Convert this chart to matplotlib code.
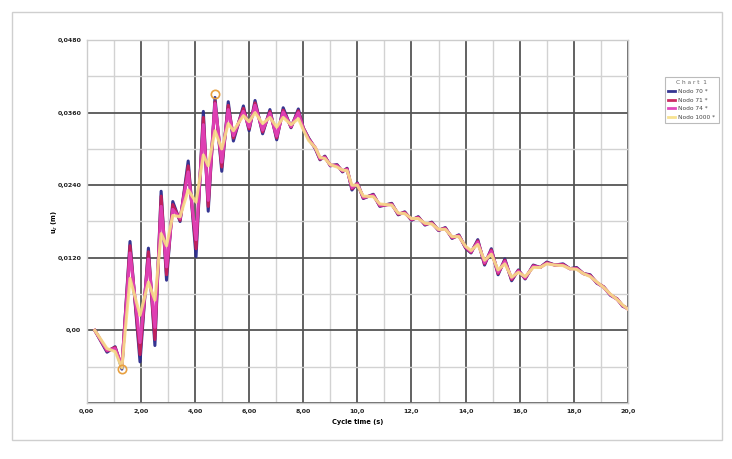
import matplotlib.pyplot as plt
import numpy as np
from matplotlib.patches import Rectangle
from matplotlib.ticker import MultipleLocator, FixedLocator

# Tiempo (s) en los puntos de giro de las curvas
t = [0.30, 0.75, 1.05, 1.30, 1.60, 1.97, 2.28, 2.52, 2.75, 2.95,
     3.18, 3.45, 3.75, 4.04, 4.31, 4.49, 4.74, 4.99, 5.23, 5.42,
     5.79, 6.00, 6.22, 6.50, 6.77, 7.02, 7.26, 7.55, 7.82, 8.00,
     8.20, 8.45, 8.62, 8.80, 9.00, 9.25, 9.45, 9.62, 9.80, 10.00,
     10.22, 10.59, 10.83, 11.27, 11.51, 11.75, 12.00, 12.25, 12.50, 12.75,
     13.00, 13.25, 13.50, 13.75, 14.00, 14.20, 14.45, 14.70, 14.95, 15.20,
     15.45, 15.70, 15.95, 16.20, 16.50, 16.75, 17.00, 17.30, 17.60, 17.85,
     18.10, 18.35, 18.60, 18.85, 19.10, 19.35, 19.60, 19.80, 20.00]

nodo70 = [0.0000, -0.0036, -0.0027, -0.0064, 0.0147, -0.0052, 0.0136, -0.0025, 0.0230, 0.0083,
          0.0213, 0.0180, 0.0280, 0.0122, 0.0362, 0.0197, 0.0385, 0.0263, 0.0378, 0.0313,
          0.0371, 0.0330, 0.0380, 0.0325, 0.0365, 0.0315, 0.0368, 0.0335, 0.0366, 0.0335,
          0.0318, 0.0300, 0.0282, 0.0288, 0.0272, 0.0274, 0.0262, 0.0268, 0.0232, 0.0244,
          0.0218, 0.0225, 0.0205, 0.0210, 0.0191, 0.0196, 0.0182, 0.0188, 0.0174, 0.0179,
          0.0165, 0.0170, 0.0152, 0.0158, 0.0136, 0.0128, 0.0150, 0.0108, 0.0135, 0.0092,
          0.0118, 0.0082, 0.0100, 0.0085, 0.0108, 0.0104, 0.0113, 0.0108, 0.0110, 0.0102,
          0.0104, 0.0094, 0.0092, 0.0078, 0.0072, 0.0058, 0.0052, 0.0040, 0.0036]

nodo71 = [0.0000, -0.0034, -0.0028, -0.0060, 0.0140, -0.0040, 0.0130, -0.0015, 0.0222, 0.0092,
          0.0208, 0.0182, 0.0272, 0.0135, 0.0352, 0.0205, 0.0378, 0.0270, 0.0372, 0.0318,
          0.0367, 0.0333, 0.0376, 0.0328, 0.0362, 0.0318, 0.0364, 0.0336, 0.0363, 0.0335,
          0.0317, 0.0301, 0.0283, 0.0287, 0.0273, 0.0273, 0.0263, 0.0267, 0.0234, 0.0243,
          0.0219, 0.0224, 0.0206, 0.0209, 0.0192, 0.0195, 0.0183, 0.0187, 0.0175, 0.0178,
          0.0166, 0.0169, 0.0153, 0.0157, 0.0137, 0.0129, 0.0148, 0.0110, 0.0133, 0.0094,
          0.0116, 0.0084, 0.0099, 0.0086, 0.0107, 0.0104, 0.0112, 0.0108, 0.0109, 0.0102,
          0.0103, 0.0094, 0.0091, 0.0079, 0.0072, 0.0059, 0.0052, 0.0041, 0.0036]

nodo74 = [0.0000, -0.0033, -0.0030, -0.0058, 0.0128, -0.0020, 0.0118, 0.0005, 0.0205, 0.0105,
          0.0200, 0.0185, 0.0262, 0.0150, 0.0340, 0.0215, 0.0375, 0.0278, 0.0365, 0.0322,
          0.0362, 0.0336, 0.0372, 0.0331, 0.0359, 0.0321, 0.0361, 0.0337, 0.0360, 0.0334,
          0.0316, 0.0302, 0.0284, 0.0286, 0.0273, 0.0272, 0.0264, 0.0266, 0.0236, 0.0242,
          0.0220, 0.0223, 0.0207, 0.0208, 0.0193, 0.0194, 0.0184, 0.0186, 0.0176, 0.0177,
          0.0166, 0.0168, 0.0154, 0.0156, 0.0138, 0.0130, 0.0146, 0.0112, 0.0131, 0.0096,
          0.0114, 0.0086, 0.0098, 0.0087, 0.0106, 0.0104, 0.0111, 0.0108, 0.0108, 0.0102,
          0.0102, 0.0094, 0.0090, 0.0079, 0.0071, 0.0059, 0.0051, 0.0041, 0.0035]

nodo1000 = [0.0000, -0.0030, -0.0035, -0.0062, 0.0086, 0.0025, 0.0080, 0.0050, 0.0160, 0.0140,
            0.0190, 0.0188, 0.0232, 0.0212, 0.0290, 0.0272, 0.0330, 0.0300, 0.0342, 0.0330,
            0.0355, 0.0345, 0.0360, 0.0342, 0.0352, 0.0336, 0.0352, 0.0340, 0.0350, 0.0332,
            0.0314, 0.0302, 0.0286, 0.0284, 0.0274, 0.0270, 0.0265, 0.0264, 0.0240, 0.0240,
            0.0222, 0.0221, 0.0209, 0.0207, 0.0194, 0.0193, 0.0185, 0.0185, 0.0177, 0.0176,
            0.0167, 0.0167, 0.0155, 0.0155, 0.0139, 0.0132, 0.0142, 0.0116, 0.0126, 0.0100,
            0.0110, 0.0088, 0.0096, 0.0089, 0.0104, 0.0104, 0.0110, 0.0108, 0.0107, 0.0102,
            0.0101, 0.0094, 0.0089, 0.0080, 0.0071, 0.0060, 0.0051, 0.0042, 0.0035]

series = [("Nodo 70 *", nodo70, "#2a2a8c"),
          ("Nodo 71 *", nodo71, "#c8205a"),
          ("Nodo 74 *", nodo74, "#e040b8"),
          ("Nodo 1000 *", nodo1000, "#f7df86")]

x_ticks = [0, 2, 4, 6, 8, 10, 12, 14, 16, 18, 20]
x_labels = ["0,00", "2,00", "4,00", "6,00", "8,00", "10,0", "12,0", "14,0", "16,0", "18,0", "20,0"]
y_ticks = [0.0, 0.012, 0.024, 0.036, 0.048]
y_labels = ["0,00", "0,0120", "0,0240", "0,0360", "0,0480"]

fig = plt.figure(figsize=(7.32, 4.59), dpi=100)
ax = fig.add_axes([86.7 / 732, 1 - 403 / 459, (628 - 86.7) / 732, (403 - 40) / 459])

# Marco exterior del gráfico
fig.patches.append(Rectangle((12 / 732, 1 - 440 / 459), 710 / 732, 428 / 459,
                             transform=fig.transFigure, fill=False,
                             edgecolor="#cfcfcf", linewidth=1.0))

ax.set_xlim(0, 20)
ax.set_ylim(-0.012, 0.048)

# Rejilla mayor oscura y menor clara
ax.xaxis.set_major_locator(FixedLocator(x_ticks))
ax.xaxis.set_minor_locator(MultipleLocator(1))
ax.yaxis.set_major_locator(FixedLocator(y_ticks + [-0.012]))
ax.yaxis.set_minor_locator(MultipleLocator(0.006))
ax.grid(which="major", color="#555555", linewidth=1.3)
ax.grid(which="minor", color="#d2d2d2", linewidth=1.0)
ax.set_axisbelow(True)
for s in ax.spines.values():
    s.set_color("#cccccc")
    s.set_linewidth(1.0)
    s.set_zorder(3)

ax.set_xticks(x_ticks)
ax.set_xticklabels(x_labels, fontsize=4.5, fontweight="bold", color="#222222")
ax.set_yticks(y_ticks + [-0.012])
ax.set_yticklabels(y_labels + [""], fontsize=4.5, fontweight="bold", color="#222222")
ax.tick_params(which="both", length=0, pad=4)

handles = []
for name, vals, col in series:
    ln, = ax.plot(t, vals, color=col, linewidth=2.2, solid_joinstyle="round",
                  alpha=0.95 if name != "Nodo 1000 *" else 0.9, label=name)
    handles.append(ln)

# Máximo y mínimo marcados con círculo
i_max = int(np.argmax(nodo70))
i_min = int(np.argmin(nodo70))
ax.plot([t[i_max], t[i_min]], [nodo70[i_max] + 0.0006, nodo70[i_min]], "o",
        markersize=6, markerfacecolor="none", markeredgecolor="#e8a040",
        markeredgewidth=1.2, zorder=5)

ax.set_xlabel("Cycle time (s)", fontsize=4.8, fontweight="bold", labelpad=4)
ax.set_ylabel("u$_z$ (m)", fontsize=4.8, fontweight="bold")
ax.yaxis.set_label_coords(-0.05, 0.5)

leg = fig.legend(handles=handles, title="C h a r t  1", loc="upper left",
                 bbox_to_anchor=(662 / 732, 1 - 74 / 459), fontsize=4.2,
                 title_fontsize=4.2, frameon=True, fancybox=False,
                 handlelength=1.2, handletextpad=0.5, labelspacing=0.6,
                 borderpad=0.6, edgecolor="#aaaaaa")
leg.get_frame().set_linewidth(0.8)
for lh in leg.get_lines():
    lh.set_linewidth(2.0)
for txt in leg.get_texts():
    txt.set_color("#444444")
leg.get_title().set_color("#666666")

fig.savefig("out.png", dpi=100)
